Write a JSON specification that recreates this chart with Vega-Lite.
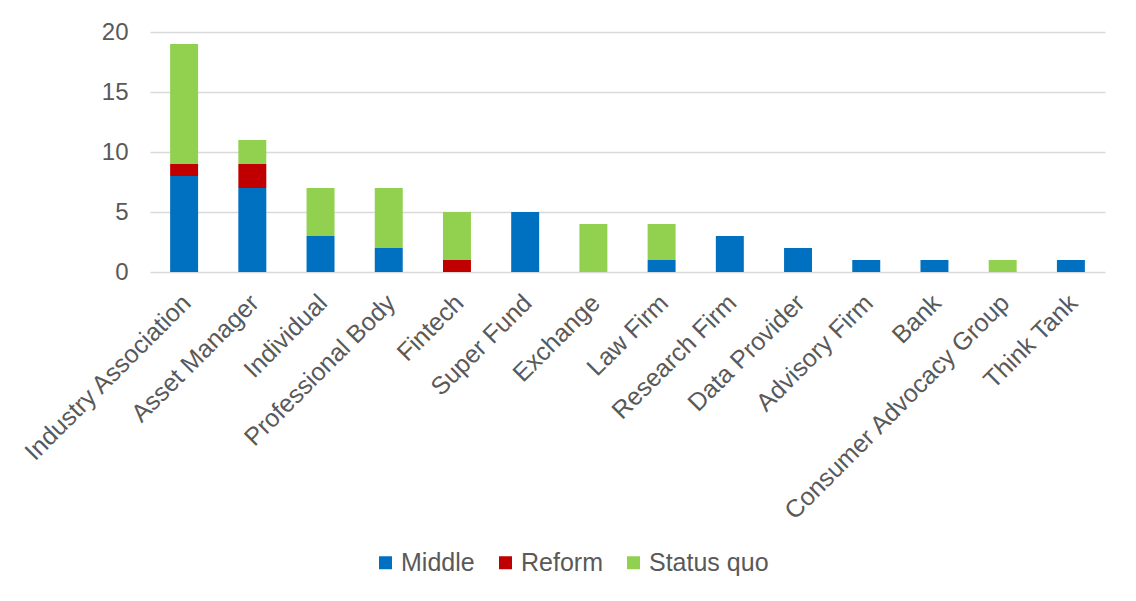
{
  "$schema": "https://vega.github.io/schema/vega-lite/v6.json",
  "autosize": "none",
  "width": 955,
  "height": 240,
  "padding": {"left": 150, "top": 32, "right": 31, "bottom": 329},
  "background": "white",
  "data": {
    "values": [
      {"org": "Industry Association", "view": "Middle", "n": 8},
      {"org": "Industry Association", "view": "Reform", "n": 1},
      {"org": "Industry Association", "view": "Status quo", "n": 10},
      {"org": "Asset Manager", "view": "Middle", "n": 7},
      {"org": "Asset Manager", "view": "Reform", "n": 2},
      {"org": "Asset Manager", "view": "Status quo", "n": 2},
      {"org": "Individual", "view": "Middle", "n": 3},
      {"org": "Individual", "view": "Status quo", "n": 4},
      {"org": "Professional Body", "view": "Middle", "n": 2},
      {"org": "Professional Body", "view": "Status quo", "n": 5},
      {"org": "Fintech", "view": "Reform", "n": 1},
      {"org": "Fintech", "view": "Status quo", "n": 4},
      {"org": "Super Fund", "view": "Middle", "n": 5},
      {"org": "Exchange", "view": "Status quo", "n": 4},
      {"org": "Law Firm", "view": "Middle", "n": 1},
      {"org": "Law Firm", "view": "Status quo", "n": 3},
      {"org": "Research Firm", "view": "Middle", "n": 3},
      {"org": "Data Provider", "view": "Middle", "n": 2},
      {"org": "Advisory Firm", "view": "Middle", "n": 1},
      {"org": "Bank", "view": "Middle", "n": 1},
      {"org": "Consumer Advocacy Group", "view": "Status quo", "n": 1},
      {"org": "Think Tank", "view": "Middle", "n": 1}
    ]
  },
  "mark": {"type": "bar"},
  "encoding": {
    "x": {
      "field": "org",
      "type": "nominal",
      "sort": ["Industry Association", "Asset Manager", "Individual", "Professional Body", "Fintech", "Super Fund", "Exchange", "Law Firm", "Research Firm", "Data Provider", "Advisory Firm", "Bank", "Consumer Advocacy Group", "Think Tank"],
      "scale": {"paddingInner": 0.59, "paddingOuter": 0.295},
      "axis": {
        "title": null,
        "labelAngle": -45,
        "labelFont": "Liberation Sans",
        "labelFontSize": 25,
        "labelColor": "#595959",
        "labelPadding": 18,
        "labelOffset": -6,
        "ticks": false,
        "domain": false,
        "labelLimit": 400
      }
    },
    "y": {
      "field": "n",
      "type": "quantitative",
      "stack": "zero",
      "scale": {"domain": [0, 20]},
      "axis": {
        "title": null,
        "values": [0, 5, 10, 15, 20],
        "labelFont": "Liberation Sans",
        "labelFontSize": 24,
        "labelColor": "#595959",
        "labelPadding": 22,
        "ticks": false,
        "domain": false,
        "gridColor": "#d9d9d9",
        "gridWidth": 1.3
      }
    },
    "color": {
      "field": "view",
      "type": "nominal",
      "scale": {"domain": ["Middle", "Reform", "Status quo"], "range": ["#0070C0", "#C00000", "#92D050"]},
      "legend": {
        "title": null,
        "orient": "none",
        "direction": "horizontal",
        "legendX": 223,
        "legendY": 518,
        "padding": 0,
        "symbolType": "square",
        "symbolSize": 169,
        "symbolStrokeWidth": 0,
        "labelFont": "Liberation Sans",
        "labelFontSize": 25,
        "labelColor": "#595959",
        "labelOffset": 3,
        "columnPadding": 18
      }
    },
    "order": {"field": "view", "sort": "ascending"}
  },
  "config": {"view": {"stroke": null}}
}
